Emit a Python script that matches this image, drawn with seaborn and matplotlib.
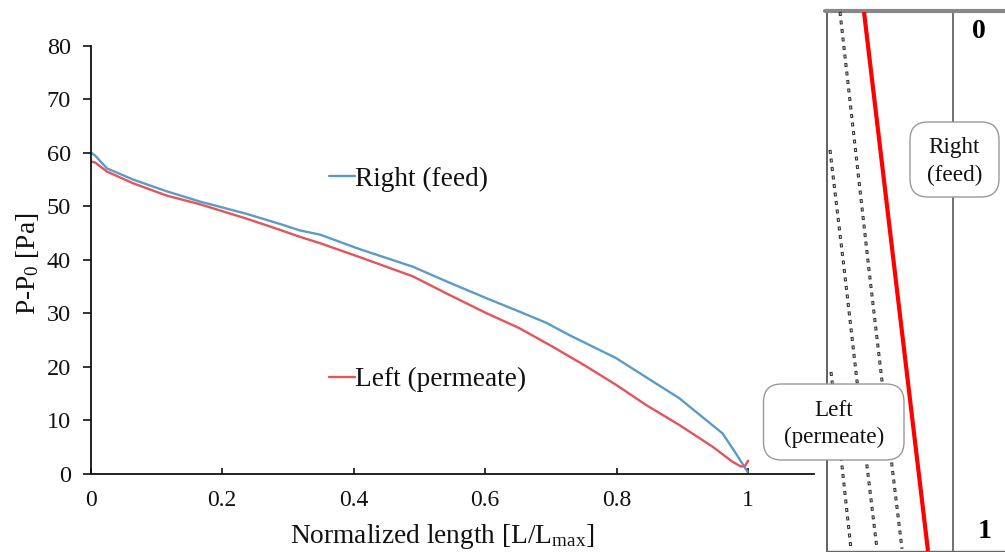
"""Pressure along the normalized length, with the channel sketch at the right."""

import numpy as np
import pandas as pd
import matplotlib
matplotlib.use("Agg")
import matplotlib.pyplot as plt
from matplotlib.patches import FancyBboxPatch
import seaborn as sns

# curve values
right_x = [0, 0.007, 0.025, 0.065, 0.116, 0.166, 0.237, 0.288, 0.318, 0.349, 0.409, 0.49, 0.546,
           0.602, 0.652, 0.693, 0.728, 0.799, 0.845, 0.895, 0.926, 0.948, 0.961, 0.981, 0.999]
right_p = [60.1, 59.5, 57.1, 55, 52.8, 50.9, 48.6, 46.7, 45.5, 44.7, 42, 38.7, 35.7,
           32.8, 30.3, 28.2, 25.9, 21.6, 18, 14.1, 11, 8.8, 7.5, 3.8, 0.3]
left_x = [0, 0.007, 0.025, 0.065, 0.116, 0.166, 0.237, 0.288, 0.318, 0.349, 0.409, 0.49, 0.546,
          0.602, 0.652, 0.703, 0.753, 0.799, 0.845, 0.895, 0.946, 0.976, 0.989, 0.995, 1.0]
left_p = [58.4, 58.2, 56.5, 54.3, 52, 50.4, 47.7, 45.6, 44.3, 43.1, 40.5, 36.9, 33.4,
          30, 27.2, 23.7, 20.1, 16.6, 12.8, 9.1, 5, 2.2, 1.3, 1.4, 2.4]
series_names = ["Right (feed)", "Left (permeate)"]
series_colors = ["#5b9bc9", "#e4545a"]
x_ticks = [0, 0.2, 0.4, 0.6, 0.8, 1]
x_tick_labels = ["0", "0.2", "0.4", "0.6", "0.8", "1"]
y_ticks = [0, 10, 20, 30, 40, 50, 60, 70, 80]

# sketch geometry, in image pixels
dotted_x = [[840, 869, 882, 892, 902], [830, 845, 857, 867, 877], [831, 842, 851]]
dotted_y = [[12, 270, 381, 466, 549], [150, 276, 381, 466, 549], [372, 466, 549]]
membrane_x = [864, 928]
membrane_y = [12, 551]

sns.set_theme(style="ticks")
plt.rcParams["font.family"] = ["Liberation Serif", "DejaVu Serif"]
plt.rcParams["mathtext.fontset"] = "custom"
plt.rcParams["mathtext.rm"] = "Liberation Serif"
plt.rcParams["mathtext.default"] = "rm"

W, H = 1005, 552
fig = plt.figure(figsize=(W / 100, H / 100), dpi=100, facecolor="white")
ax = fig.add_axes([90.5 / W, 1 - 473.5 / H, (814 - 90.5) / W, (473.5 - 46) / H])

df = pd.concat([
    pd.DataFrame({"x": right_x, "p": right_p, "side": series_names[0]}),
    pd.DataFrame({"x": left_x, "p": left_p, "side": series_names[1]}),
])
sns.lineplot(data=df, x="x", y="p", hue="side", palette=series_colors, sort=False,
             estimator=None, linewidth=1.7, ax=ax)
ax.set_xlim(0, 1.1)
ax.set_ylim(0, 80)
ax.set_xticks(x_ticks, x_tick_labels)
ax.set_yticks(y_ticks)
ax.tick_params(axis="x", direction="in", length=4, width=1.2, pad=12, labelsize=17, colors="#111111")
ax.tick_params(axis="y", length=6, width=1.2, pad=8, labelsize=17.5, colors="#111111")
for side in ["top", "right"]:
    ax.spines[side].set_visible(False)
for side in ["left", "bottom"]:
    ax.spines[side].set_linewidth(1.3)
    ax.spines[side].set_color("#111111")
ax.set_xlabel("Normalized length [L/L$_{max}$]", fontsize=19.7, color="#111111")
ax.set_ylabel("P-P$_0$ [Pa]", fontsize=19.7, color="#111111")
ax.xaxis.set_label_coords(0.486, -0.113)
ax.yaxis.set_label_coords(-0.069, 0.49)

handles, labels = ax.get_legend_handles_labels()
ax.legend(handles, labels, loc="upper left", bbox_to_anchor=(0.33, 0.718), frameon=False,
          fontsize=19.6, labelspacing=6.45, handlelength=0.93, handletextpad=0.02,
          borderpad=0, borderaxespad=0, labelcolor="#111111")

# sketch: overlay in image pixels
sk = fig.add_axes([0, 0, 1, 1], facecolor="none", zorder=5)
sk.set_xlim(0, W)
sk.set_ylim(H, 0)
sk.axis("off")

sk.plot([826.5, 826.5], [11, 551], color="#555555", lw=1.3)
sk.plot([953, 953], [11, 551], color="#666666", lw=1.3)
sk.plot([825, 1005], [11, 11], color="#888888", lw=3)
sk.plot([826, 1005], [550.5, 550.5], color="#666666", lw=1)

for xs, ys in zip(dotted_x, dotted_y):
    # small hollow dashes, like a row of tiny zeros
    sk.plot(xs, ys, color="#333333", lw=2.2, linestyle=(0, (1.3, 1.5)), dash_capstyle="butt")
    sk.plot(xs, ys, color="white", lw=0.6, linestyle=(8.98, (2.2, 8.067)), dash_capstyle="butt")

sk.plot(membrane_x, membrane_y, color="#ff0000", lw=3, solid_capstyle="butt")

for x0, y0, x1, y1, txt in [(910, 122, 999, 197, "Right\n(feed)"),
                            (763.5, 384, 904, 460, "Left\n(permeate)")]:
    sk.add_patch(FancyBboxPatch((x0 + 18, y0 + 18), x1 - x0 - 36, y1 - y0 - 36,
                                boxstyle="round,pad=18,rounding_size=18",
                                fc="white", ec="#999999", lw=1, zorder=4))
    sk.text((x0 + x1) / 2, (y0 + y1) / 2 + 2, txt, ha="center", va="center", fontsize=16.7,
            linespacing=1.38, color="#111111", zorder=5)

sk.text(979, 31, "0", ha="center", va="center", fontsize=20, fontweight="bold", color="black")
sk.text(985, 531, "1", ha="center", va="center", fontsize=20, fontweight="bold", color="black")

fig.savefig("out.png", dpi=100)
